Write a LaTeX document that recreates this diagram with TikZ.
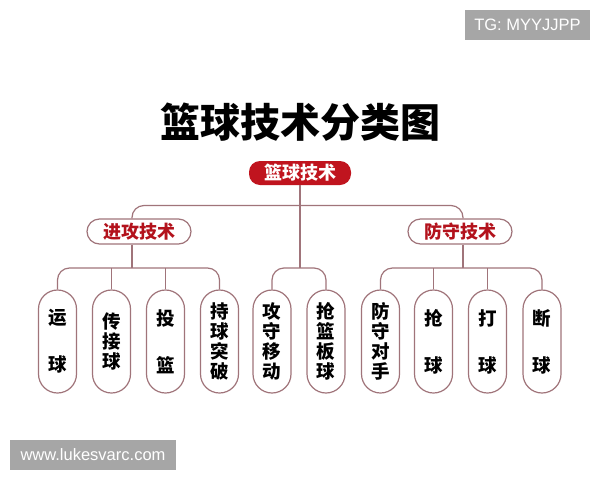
\documentclass[tikz,border=0pt]{standalone}
\usepackage{fontspec}
\setmainfont{Liberation Sans}
\newfontfamily\cjk{Noto Sans CJK SC}
\usetikzlibrary{calc}
\definecolor{bred}{HTML}{C0141E}
\definecolor{tred}{HTML}{B3121C}
\definecolor{lncol}{HTML}{A0747A}
\definecolor{wmgray}{HTML}{A6A6A6}
\tikzset{
  conn/.style={draw=lncol, line width=1.2pt, rounded corners=12pt},
  rootbox/.style={fill=bred, draw=none, rounded corners=11pt, minimum width=102pt, minimum height=24pt, inner sep=0pt, text=white, font=\cjk\bfseries\fontsize{18}{20}\selectfont},
  catbox/.style={draw=lncol, line width=1.2pt, fill=white, rounded corners=12.5pt, minimum width=104pt, minimum height=25pt, inner sep=0pt, text=tred, font=\cjk\bfseries\fontsize{18}{20}\selectfont},
  leafbox/.style={draw=lncol, line width=1.2pt, fill=white, rounded corners=19pt, minimum width=38pt, minimum height=103pt, inner sep=0pt, align=center, text=black, font=\cjk\bfseries\fontsize{18.5}{20}\selectfont},
  wmark/.style={fill=wmgray, text=white, inner sep=0pt, font=\fontsize{16.5}{18}\selectfont},
}
\begin{document}
\begin{tikzpicture}[x=1pt,y=-1pt]
\useasboundingbox (0,0) rectangle (600,480);
\fill[white] (0,0) rectangle (600,480);
% watermarks
\node[wmark, minimum width=125pt, minimum height=30pt] (tg) at (527.5,25) {TG: MYYJJPP};
\node[wmark, minimum width=166pt, minimum height=30pt] (www) at (93,455) {www.lukesvarc.com};
% title
\node[font=\cjk\bfseries\fontsize{40}{44}\selectfont, inner sep=0pt] (title) at (300,122) {篮球技术分类图};
% main nodes
\node[rootbox] (root) at (300,173) {篮球技术};
\node[catbox] (att) at (139,231.5) {进攻技术};
\node[catbox] (def) at (460,231.5) {防守技术};
% leaves
\node[leafbox] (l1) at (57.5,341.5) {运\\[27pt]球};
\node[leafbox] (l2) at (111.5,341.5) {\fontsize{18.5}{21.5}\selectfont 传\\接\\球};
\node[leafbox] (l3) at (165.5,341.5) {投\\[27pt]篮};
\node[leafbox] (l4) at (219.5,341.5) {\fontsize{18.5}{19}\selectfont 持\\球\\突\\破};
\node[leafbox] (l5) at (272,341.5) {\fontsize{18.5}{19}\selectfont 攻\\守\\移\\动};
\node[leafbox] (l6) at (326,341.5) {\fontsize{18.5}{19}\selectfont 抢\\篮\\板\\球};
\node[leafbox] (l7) at (380.5,341.5) {\fontsize{18.5}{19}\selectfont 防\\守\\对\\手};
\node[leafbox] (l8) at (433.5,341.5) {抢\\[27pt]球};
\node[leafbox] (l9) at (487.5,341.5) {打\\[27pt]球};
\node[leafbox] (l10) at (542,341.5) {断\\[27pt]球};
% bus coordinates
\coordinate (busT) at (300,205.5);
\coordinate (busL) at (132,268);
\coordinate (busM) at (300,268);
\coordinate (busR) at (463,268);
% connectors
\draw[conn] (root.south) -- (busM);
\draw[conn] ([xshift=-7pt]att.north) |- (busT) -| ([xshift=3pt]def.north);
\draw[conn] ([xshift=-7pt]att.south) -- (busL);
\draw[conn] ([xshift=3pt]def.south) -- (busR);
\draw[conn] (l1.north) |- (busL) -| (l4.north);
\draw[conn] (l2.north) -- (l2.north |- busL);
\draw[conn] (l3.north) -- (l3.north |- busL);
\draw[conn] (l5.north) |- (busM) -| (l6.north);
\draw[conn] (l7.north) |- (busR) -| (l10.north);
\draw[conn] (l8.north) -- (l8.north |- busR);
\draw[conn] (l9.north) -- (l9.north |- busR);
\end{tikzpicture}
\end{document}
